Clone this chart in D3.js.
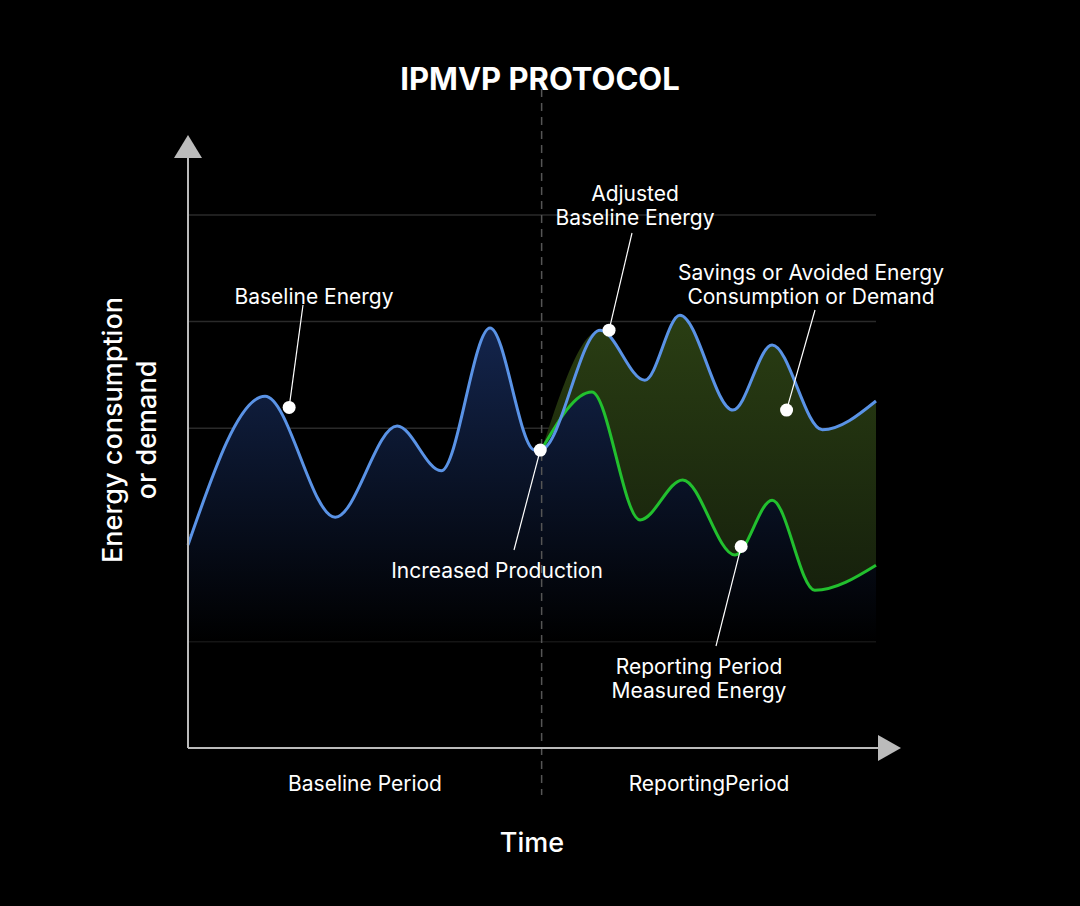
<!DOCTYPE html>
<html><head><meta charset="utf-8">
<script src="https://cdn.jsdelivr.net/npm/d3@7"></script>
<style>body{margin:0;background:#000}svg{display:block}text{font-family:Inter,"Noto Sans",sans-serif;fill:#fff}</style>
</head><body><svg id="c" width="1080" height="906"></svg>
<script>
// data in arbitrary units: x = time 0..100, y = energy 0..100
var baseline = [[0,38.1],[11.2,66.0],[21.4,43.3],[30.4,60.4],[36.8,52.0],[43.9,78.8],[50.4,55.9],[51.4,56.0],[59.9,78.4],[66.4,69.0],[71.5,81.2],[79.2,63.4],[84.9,75.6],[92.2,59.7],[100,65.1]];
var measured = [[51.4,56.0],[58.7,66.8],[65.7,42.8],[71.9,50.3],[79.5,36.2],[84.9,46.5],[91.1,29.6],[100,34.3]];
var gridValues = [20,40,60,80,100];
var splitAt = 51.4;
var labels = [
  {dot:[14.7,63.9], lines:["Baseline Energy"], tx:314, ty:304, lx:[303,305]},
  {dot:[51.2,55.9], lines:["Increased Production"], tx:497, ty:578, lx:[514,550]},
  {dot:[61.2,78.4], lines:["Adjusted","Baseline Energy"], tx:635, ty:201, lx:[632,233]},
  {dot:[87.0,63.4], lines:["Savings or Avoided Energy","Consumption or Demand"], tx:811, ty:280, lx:[815,310]},
  {dot:[80.4,37.8], lines:["Reporting Period","Measured Energy"], tx:699, ty:674, lx:[716,646]}
];

var svg = d3.select('#c');
var x = d3.scaleLinear().domain([0,100]).range([188,876]);
var y = d3.scaleLinear().domain([0,100]).range([748,215]);

var defs = svg.append('defs');
var g1 = defs.append('linearGradient').attr('id','blueFill').attr('x1',0).attr('x2',0).attr('y1',0).attr('y2',1);
g1.append('stop').attr('offset','0%').attr('stop-color','#14264f');
g1.append('stop').attr('offset','100%').attr('stop-color','#000');
var g2 = defs.append('linearGradient').attr('id','greenFill').attr('x1',0).attr('x2',0).attr('y1',0).attr('y2',1);
g2.append('stop').attr('offset','0%').attr('stop-color','#2b3f10');
g2.append('stop').attr('offset','100%').attr('stop-color','#17220c');

// grid
svg.selectAll('.grid').data(gridValues).enter().append('line')
  .attr('x1',x(0)).attr('x2',x(100)).attr('y1',d=>y(d)).attr('y2',d=>y(d))
  .attr('stroke','#2a2a2a').attr('stroke-width',1.5);

var curve = d3.curveMonotoneX;
// blue area
svg.append('path').datum(baseline)
  .attr('d', d3.area().curve(curve).x(d=>x(d[0])).y0(y(20)).y1(d=>y(d[1])))
  .attr('fill','url(#blueFill)');

// savings area between curves
var bLine = d3.line().curve(curve).x(d=>x(d[0])).y(d=>y(d[1]));
var bPart = baseline.filter(d=>d[0]>=splitAt);
var pathD = bLine(bPart) + 'L' + bLine(measured.slice().reverse()).slice(1) + 'Z';
svg.append('path').attr('d',pathD).attr('fill','url(#greenFill)').attr('opacity',0.95);

// divider
svg.append('line').attr('x1',x(splitAt)).attr('x2',x(splitAt)).attr('y1',75).attr('y2',795)
  .attr('stroke','#555').attr('stroke-width',1.5).attr('stroke-dasharray','8,6');

svg.append('path').datum(measured).attr('d',bLine).attr('fill','none').attr('stroke','#22c02e').attr('stroke-width',3);
svg.append('path').datum(baseline).attr('d',bLine).attr('fill','none').attr('stroke','#5a93e6').attr('stroke-width',3);

// axes
svg.append('line').attr('x1',188).attr('x2',188).attr('y1',155).attr('y2',748).attr('stroke','#bbb').attr('stroke-width',2);
svg.append('line').attr('x1',188).attr('x2',882).attr('y1',748).attr('y2',748).attr('stroke','#bbb').attr('stroke-width',2);
svg.append('path').attr('d','M174,158L188,135L202,158Z').attr('fill','#bbb');
svg.append('path').attr('d','M878,735L901,748L878,761Z').attr('fill','#bbb');

// labels
labels.forEach(function(l){
  var px = x(l.dot[0]), py = y(l.dot[1]);
  svg.append('line').attr('x1',px).attr('y1',py).attr('x2',l.lx[0]).attr('y2',l.lx[1]).attr('stroke','#fff').attr('stroke-width',1.2);
  svg.append('circle').attr('cx',px).attr('cy',py).attr('r',6.5).attr('fill','#fff');
  l.lines.forEach(function(t,i){
    svg.append('text').attr('x',l.tx).attr('y',l.ty+i*24).attr('text-anchor','middle').attr('font-size',21).text(t);
  });
});

svg.append('text').attr('x',540).attr('y',90).attr('text-anchor','middle').attr('font-size',31).attr('font-weight',700).text('IPMVP PROTOCOL');
svg.append('text').attr('x',365).attr('y',791).attr('text-anchor','middle').attr('font-size',21).text('Baseline Period');
svg.append('text').attr('x',709).attr('y',791).attr('text-anchor','middle').attr('font-size',21).text('ReportingPeriod');
svg.append('text').attr('x',532).attr('y',852).attr('text-anchor','middle').attr('font-size',27).attr('font-weight',500).text('Time');
var yl = svg.append('text').attr('transform','translate(130,430) rotate(-90)').attr('text-anchor','middle').attr('font-size',27).attr('font-weight',500);
yl.append('tspan').attr('x',0).attr('dy',-8).text('Energy consumption');
yl.append('tspan').attr('x',0).attr('dy',34).text('or demand');
</script></body></html>
